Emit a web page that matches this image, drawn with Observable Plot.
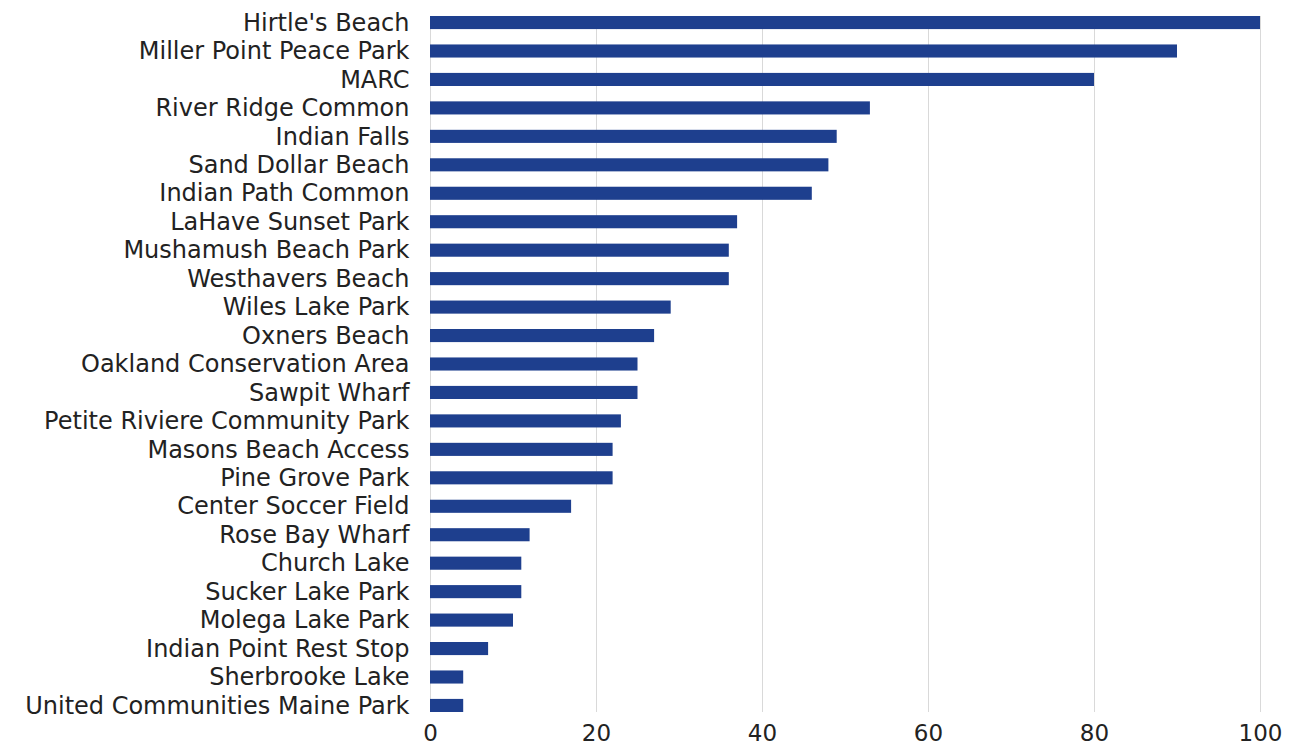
<!DOCTYPE html>
<html>
<head>
<meta charset="utf-8">
<script src="https://cdn.jsdelivr.net/npm/d3@7"></script>
<script src="https://cdn.jsdelivr.net/npm/@observablehq/plot@0.6"></script>
<style>
  html, body { margin: 0; padding: 0; background: #fff; }
  #chart svg { display: block; }
</style>
</head>
<body>
<div id="chart"></div>
<script>
const parks = [
  "Hirtle's Beach", "Miller Point Peace Park", "MARC", "River Ridge Common",
  "Indian Falls", "Sand Dollar Beach", "Indian Path Common", "LaHave Sunset Park",
  "Mushamush Beach Park", "Westhavers Beach", "Wiles Lake Park", "Oxners Beach",
  "Oakland Conservation Area", "Sawpit Wharf", "Petite Riviere Community Park",
  "Masons Beach Access", "Pine Grove Park", "Center Soccer Field", "Rose Bay Wharf",
  "Church Lake", "Sucker Lake Park", "Molega Lake Park", "Indian Point Rest Stop",
  "Sherbrooke Lake", "United Communities Maine Park"
];
const values = [100, 90, 80, 53, 49, 48, 46, 37, 36, 36, 29, 27, 25, 25, 23, 22, 22, 17, 12, 11, 11, 10, 7, 4, 4];
const xTicks = [0, 20, 40, 60, 80, 100];

const data = parks.map((p, i) => ({park: p, value: values[i]}));

const chart = Plot.plot({
  width: 1298,
  height: 748,
  marginLeft: 430,
  marginRight: 38,
  marginTop: 16,
  marginBottom: 36,
  style: {fontFamily: "'DejaVu Sans', sans-serif", color: "#222", background: "#fff"},
  x: {domain: [0, 100], ticks: xTicks, label: null},
  y: {domain: parks, paddingInner: 0.54, paddingOuter: 0, round: false, label: null},
  marks: [
    Plot.ruleX(xTicks, {stroke: "#d9d9d9", strokeWidth: 1}),
    Plot.barX(data, {y: "park", x: "value", fill: "#1e3f8e"}),
    Plot.axisX({ticks: xTicks, tickSize: 0, tickPadding: 12, fontSize: 23, fill: "#222", label: null}),
    Plot.axisY({tickSize: 0, tickPadding: 21, fontSize: 24, fill: "#222", label: null})
  ]
});
document.getElementById("chart").appendChild(chart);
</script>
</body>
</html>
